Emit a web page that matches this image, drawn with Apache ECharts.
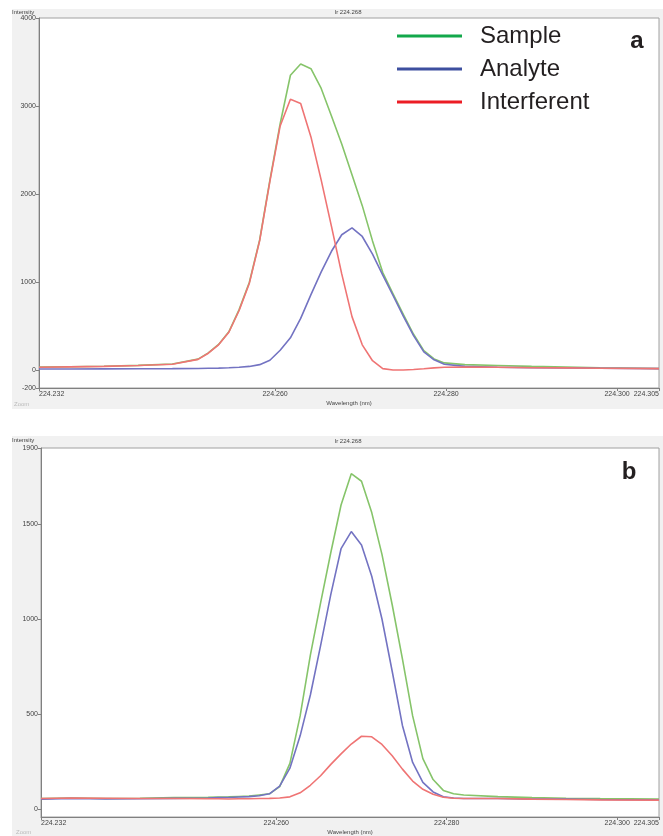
<!DOCTYPE html>
<html><head><meta charset="utf-8">
<script src="https://cdn.jsdelivr.net/npm/echarts@6/dist/echarts.min.js"></script>
<style>html,body{margin:0;padding:0;background:#fff}#c{width:663px;height:836px}</style>
</head><body><div id="c"></div>
<script>
// ---- Panel a data ----
const wavelengthA = [224.2324,224.236,224.240,224.244,224.248,
  224.2510,224.2522,224.2534,224.2546,224.2558,224.2570,224.2582,224.2594,224.2606,224.2618,
  224.2630,224.2642,224.2654,224.2666,224.2678,224.2690,224.2702,224.2714,224.2726,224.2738,
  224.2750,224.2762,224.2774,224.2786,224.2798,
  224.2822,224.286,224.290,224.294,224.298,224.3049];
const sampleA = [38,42,47,57,72,
  128,198,295,438,690,1000,1480,2160,2800,3350,3478,3425,3200,2888,2570,2220,1870,1470,1110,870,635,410,225,130,85,
  65,55,45,38,30,22];
const analyteA = [16,16,17,18,20,
  22,24,26,30,36,45,65,115,228,370,590,860,1118,1352,1540,1618,1520,1320,1082,850,617,395,210,120,70,
  45,35,30,28,25,20];
const interferentA = [35,40,45,55,70,
  125,195,290,433,680,990,1470,2145,2775,3077,3030,2650,2160,1635,1095,610,290,110,20,5,5,10,18,28,35,
  38,35,30,28,25,20];

// ---- Panel b data ----
const wavelengthB = [224.2324,224.236,224.240,224.244,224.248,
  224.2520,224.2532,224.2544,224.2556,224.2568,224.2580,224.2592,224.2604,224.2616,224.2628,
  224.2640,224.2652,224.2664,224.2676,224.2688,224.2700,224.2712,224.2724,224.2736,224.2748,
  224.2760,224.2772,224.2784,224.2796,224.2808,224.2820,
  224.286,224.290,224.294,224.298,224.3049];
const sampleB = [55,58,55,57,60,
  62,63,64,66,68,74,80,118,240,490,810,1085,1350,1600,1765,1725,1560,1340,1075,790,490,265,155,98,80,74,
  65,60,57,55,52];
const analyteB = [52,55,53,54,56,
  58,60,61,63,65,70,80,121,215,385,600,860,1130,1370,1460,1390,1225,1000,725,440,245,140,90,65,58,55,
  55,52,53,50,48];
const interferentB = [55,58,57,55,55,
  54,54,53,54,54,55,56,58,64,85,125,175,235,290,342,383,380,340,280,210,147,104,78,62,57,55,
  55,52,50,48,47];

// ---- ticks / labels ----
const xTicks = [224.2324, 224.260, 224.280, 224.300, 224.3049];
const yTicksA = [-200, 0, 1000, 2000, 3000, 4000];
const yTicksB = [0, 500, 1000, 1500, 1900];
const seriesNames = ['Sample', 'Analyte', 'Interferent'];
const chartTitle = 'Ir 224.268';
const panelLabels = ['a', 'b'];

const lineColors = ['#86c46a', '#7373c2', '#ef7474'];
const legendColors = ['#13a84b', '#3d4f9f', '#ec1c24'];
const font = 'Liberation Sans, Arial, sans-serif';
const narrow = '"Liberation Sans Narrow", "Liberation Sans", Arial, sans-serif';

const chart = echarts.init(document.getElementById('c'));

function xAxisCfg(gi) {
  return {
    type: 'value', gridIndex: gi, min: xTicks[0], max: xTicks[xTicks.length - 1],
    name: 'Wavelength (nm)', nameLocation: 'middle', nameGap: 12,
    nameTextStyle: { fontSize: 6, color: '#444', fontFamily: font },
    axisLine: { show: true, onZero: false, lineStyle: { color: '#808080', width: 1 } },
    axisTick: { show: true, length: 3, customValues: xTicks, lineStyle: { color: '#808080' } },
    axisLabel: { customValues: xTicks, formatter: v => v.toFixed(3), fontSize: 7, color: '#444',
      fontFamily: font, margin: 3, alignMinLabel: 'left', alignMaxLabel: 'right' },
    splitLine: { show: false }
  };
}
function yAxisCfg(gi, ticks) {
  return {
    type: 'value', gridIndex: gi, min: gi === 0 ? -200 : -42, max: ticks[ticks.length - 1],
    axisLine: { show: true, onZero: false, lineStyle: { color: '#808080', width: 1 } },
    axisTick: { show: true, length: 3, customValues: ticks, lineStyle: { color: '#808080' } },
    axisLabel: { customValues: ticks, formatter: v => String(Math.round(v)), fontSize: 7, color: '#444', fontFamily: font, margin: 3 },
    splitLine: { show: false }
  };
}
function makeSeries(gi, wl, vals, idx) {
  return {
    type: 'line', name: seriesNames[idx], xAxisIndex: gi, yAxisIndex: gi,
    data: wl.map((w, i) => [w, vals[i]]),
    showSymbol: false, symbol: 'none', smooth: false, animation: false,
    lineStyle: { color: lineColors[idx], width: 1.6 },
    itemStyle: { color: lineColors[idx] }, z: 3 + idx
  };
}

const option = {
  backgroundColor: '#ffffff',
  animation: false,
  grid: [
    { left: 39, top: 18, width: 620, height: 370, show: true, backgroundColor: '#ffffff', borderColor: '#a0a0a0', borderWidth: 1 },
    { left: 41, top: 448, width: 618, height: 369, show: true, backgroundColor: '#ffffff', borderColor: '#a0a0a0', borderWidth: 1 }
  ],
  xAxis: [xAxisCfg(0), xAxisCfg(1)],
  yAxis: [yAxisCfg(0, yTicksA), yAxisCfg(1, yTicksB)],
  legend: {
    orient: 'vertical', left: 397, top: 24, padding: 0, itemGap: 9,
    itemWidth: 65, itemHeight: 3, icon: 'rect',
    textStyle: { fontSize: 24, color: '#231f20', fontFamily: narrow, padding: [0, 0, 0, 13] },
    data: seriesNames.map((n, i) => ({ name: n, itemStyle: { color: legendColors[i] } })),
    selectedMode: false
  },
  graphic: [
    { type: 'rect', z: -10, silent: true, shape: { x: 12, y: 9, width: 651, height: 400 }, style: { fill: '#f1f1f1' } },
    { type: 'rect', z: -10, silent: true, shape: { x: 12, y: 436, width: 651, height: 400 }, style: { fill: '#f1f1f1' } },
    { type: 'text', left: 12, top: 9, style: { text: 'Intensity', fontSize: 6, fill: '#444', fontFamily: font } },
    { type: 'text', left: 12, top: 437, style: { text: 'Intensity', fontSize: 6, fill: '#444', fontFamily: font } },
    { type: 'text', x: 348, y: 9, style: { text: chartTitle, fontSize: 6, fill: '#444', fontFamily: font, align: 'center' } },
    { type: 'text', x: 348, y: 438, style: { text: chartTitle, fontSize: 6, fill: '#444', fontFamily: font, align: 'center' } },
    { type: 'text', x: 637, y: 41, style: { text: panelLabels[0], fontSize: 24, fontWeight: 'bold', fill: '#231f20', fontFamily: narrow, align: 'center', verticalAlign: 'middle' } },
    { type: 'text', x: 629, y: 472, style: { text: panelLabels[1], fontSize: 24, fontWeight: 'bold', fill: '#231f20', fontFamily: narrow, align: 'center', verticalAlign: 'middle' } },
    { type: 'text', x: 14, y: 401, style: { text: 'Zoom', fontSize: 6, fill: '#bbbbbb', fontFamily: font } },
    { type: 'text', x: 16, y: 829, style: { text: 'Zoom', fontSize: 6, fill: '#bbbbbb', fontFamily: font } }
  ],
  series: [
    makeSeries(0, wavelengthA, sampleA, 0),
    makeSeries(0, wavelengthA, analyteA, 1),
    makeSeries(0, wavelengthA, interferentA, 2),
    makeSeries(1, wavelengthB, sampleB, 0),
    makeSeries(1, wavelengthB, analyteB, 1),
    makeSeries(1, wavelengthB, interferentB, 2)
  ]
};
chart.setOption(option);
</script>
</body></html>
